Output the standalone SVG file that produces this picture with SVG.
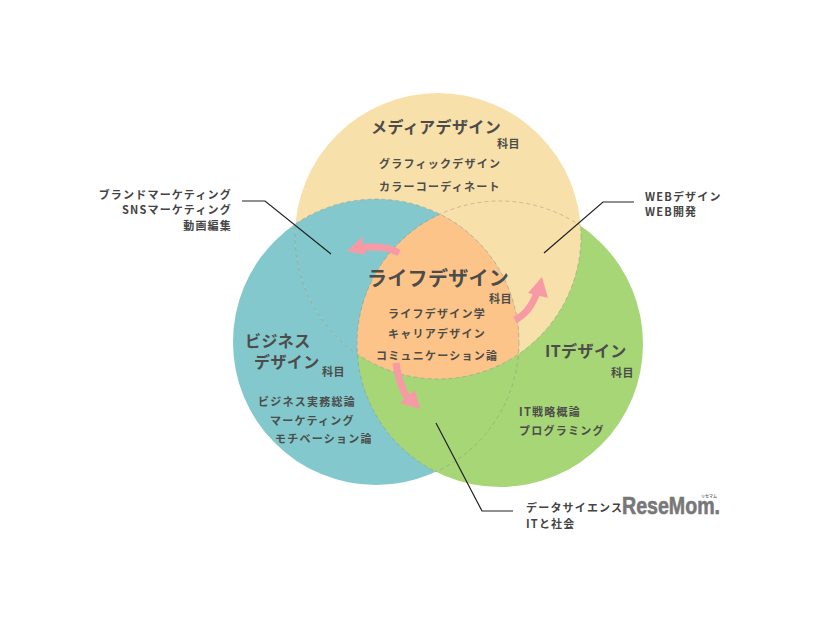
<svg xmlns="http://www.w3.org/2000/svg" width="826" height="620" viewBox="0 0 826 620">
<style>
text{font-family:"Noto Sans CJK JP","Noto Sans",sans-serif;font-weight:700;fill:#4c4c4a}
.h{font-size:16px;letter-spacing:.4px}
.big{font-size:20px;letter-spacing:.3px}
.s{font-size:11px;letter-spacing:.4px}
.i{font-size:11px;letter-spacing:1.25px}
.c{font-size:11px;fill:#444;letter-spacing:1.2px}
.d{fill:none;stroke:#8e8e80;stroke-opacity:.45;stroke-width:1;stroke-dasharray:4 3}
.l{fill:none;stroke:#222;stroke-width:1.2}
.a{fill:none;stroke:#f79aa5;stroke-width:7}
.m{fill:#f79aa5}
</style>
<defs>
<clipPath id="cm"><circle cx="438" cy="236" r="143"/></clipPath>
<clipPath id="cb"><circle cx="376" cy="342" r="143"/></clipPath>
<clipPath id="cg"><circle cx="500" cy="344" r="143"/></clipPath>
<clipPath id="xm"><circle cx="376" cy="342" r="143"/><circle cx="500" cy="344" r="143"/></clipPath>
<clipPath id="xb"><circle cx="438" cy="236" r="143"/><circle cx="500" cy="344" r="143"/></clipPath>
<clipPath id="xg"><circle cx="438" cy="236" r="143"/><circle cx="376" cy="342" r="143"/></clipPath>
</defs>
<rect width="826" height="620" fill="#fff"/>
<g id="node-business"><circle cx="376" cy="342" r="143" fill="#82c8cc"/></g>
<g id="node-it"><circle cx="500" cy="344" r="143" fill="#a6d676"/></g>
<g id="node-media"><circle cx="438" cy="236" r="143" fill="#f8e0ab"/>
<circle cx="376" cy="342" r="143" fill="#82c8cc" clip-path="url(#cm)"/></g>
<g id="node-life"><g clip-path="url(#cm)"><circle cx="500" cy="344" r="143" fill="#fcc488" clip-path="url(#cb)"/></g></g>
<g id="outlines">
<circle class="d" cx="438" cy="236" r="143" clip-path="url(#xm)"/>
<circle class="d" cx="376" cy="342" r="143" clip-path="url(#xb)"/>
<circle class="d" cx="500" cy="344" r="143" clip-path="url(#xg)"/>
</g>
<g id="connectors">
<path class="l" d="M242 201H265L331 254"/>
<path class="l" d="M634 202H603L544 253"/>
<path class="l" d="M436 423L482 511H513"/>
<path class="a" d="M399 253C388 247 375 246 362 248"/>
<path class="m" d="M347 251L362 237L365 255Z"/>
<path class="a" d="M515 320C527 314 533 304 537 292"/>
<path class="m" d="M542 277L548 298L528 293Z"/>
<path class="a" d="M396 363C398 378 402 390 408 399"/>
<path class="m" d="M420 409L400 403L415 390Z"/>
</g>
<g id="media-text">
<text class="h" x="371" y="133">メディアデザイン</text>
<text class="s" x="497" y="148">科目</text>
<text class="i" x="379" y="168">グラフィックデザイン</text>
<text class="i" x="379" y="191">カラーコーディネート</text>
</g>
<g id="life-text">
<text class="big" x="367" y="286">ライフデザイン</text>
<text class="s" x="489" y="303">科目</text>
<text class="i" x="388" y="318">ライフデザイン学</text>
<text class="i" x="388" y="338">キャリアデザイン</text>
<text class="i" x="376" y="360">コミュニケーション論</text>
</g>
<g id="business-text">
<text class="h" x="245" y="347">ビジネス</text>
<text class="h" x="254" y="368">デザイン</text>
<text class="s" x="322" y="376">科目</text>
<text class="i" x="258" y="406">ビジネス実務総論</text>
<text class="i" x="270" y="425">マーケティング</text>
<text class="i" x="275" y="443">モチベーション論</text>
</g>
<g id="it-text">
<text class="h" x="545" y="357">ITデザイン</text>
<text class="s" x="611" y="377">科目</text>
<text class="i" x="519" y="416">IT戦略概論</text>
<text class="i" x="519" y="435">プログラミング</text>
</g>
<g id="callouts">
<text class="c" x="232" y="199" text-anchor="end">ブランドマーケティング</text>
<text class="c" x="232" y="214" text-anchor="end">SNSマーケティング</text>
<text class="c" x="232" y="230" text-anchor="end">動画編集</text>
<text class="c" x="645" y="201">WEBデザイン</text>
<text class="c" x="645" y="216">WEB開発</text>
<text class="c" x="526" y="512">データサイエンス</text>
<text class="c" x="526" y="528">ITと社会</text>
</g>
<g id="logo">
<text x="622" y="514" style="font-family:'Liberation Sans',sans-serif;font-size:24px;fill:#77777a;stroke:#77777a;stroke-width:.6" textLength="98" lengthAdjust="spacingAndGlyphs">ReseMom.</text>
<text x="701" y="498" style="font-size:4px;fill:#77777a">リセマム</text>
</g>
</svg>
